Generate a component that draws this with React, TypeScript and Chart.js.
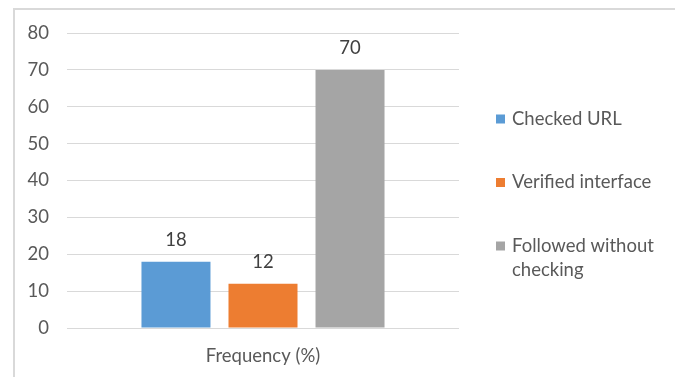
import React, { useEffect, useRef } from "react";
import { Chart, registerables } from "chart.js";
Chart.register(...registerables);

const categories = ["Frequency (%)"];
const seriesNames = ["Checked URL", "Verified interface", "Followed without checking"];
const checkedUrl = [18];
const verifiedInterface = [12];
const followedWithoutChecking = [70];
const seriesColors = ["#5B9BD5", "#ED7D31", "#A5A5A5"];
const yMin = 0;
const yMax = 80;
const yStep = 10;

const FONT = "Lato, Carlito, 'Open Sans', sans-serif";
const TICK_SIZE = 18.5;

const dataLabels = {
  id: "dataLabels",
  afterDatasetsDraw(chart: any) {
    const ctx = chart.ctx;
    ctx.save();
    ctx.font = `${TICK_SIZE}px ${FONT}`;
    ctx.fillStyle = "#404040";
    ctx.textAlign = "center";
    ctx.textBaseline = "middle";
    chart.data.datasets.forEach((ds: any, i: number) => {
      const meta = chart.getDatasetMeta(i);
      meta.data.forEach((el: any, j: number) => {
        ctx.fillText(String(ds.data[j]), el.x, el.y - 22);
      });
    });
    ctx.restore();
  },
};

const sideLegend = {
  id: "sideLegend",
  afterDraw(chart: any) {
    const ctx = chart.ctx;
    ctx.save();
    ctx.font = `${TICK_SIZE}px ${FONT}`;
    ctx.textBaseline = "middle";
    ctx.textAlign = "left";
    const sqX = chart.chartArea.right + 37;
    const textX = sqX + 16;
    const maxW = chart.width - textX - 8;
    let y = 109;
    chart.data.datasets.forEach((ds: any) => {
      ctx.fillStyle = ds.backgroundColor;
      ctx.fillRect(sqX, y - 4.5, 9, 9);
      const words = String(ds.label).split(" ");
      const lines: string[] = [];
      let cur = "";
      words.forEach((w) => {
        const t = cur ? cur + " " + w : w;
        if (ctx.measureText(t).width > maxW && cur) {
          lines.push(cur);
          cur = w;
        } else cur = t;
      });
      if (cur) lines.push(cur);
      ctx.fillStyle = "#595959";
      lines.forEach((ln, k) => ctx.fillText(ln, textX, y + k * 24));
      y += 63.5;
    });
    ctx.restore();
  },
};

export default function App() {
  const ref = useRef<HTMLCanvasElement>(null);
  useEffect(() => {
    const seriesValues = [checkedUrl, verifiedInterface, followedWithoutChecking];
    const chart = new Chart(ref.current!, {
      type: "bar",
      data: {
        labels: categories,
        datasets: seriesNames.map((name, i) => ({
          label: name,
          data: seriesValues[i],
          backgroundColor: seriesColors[i],
          categoryPercentage: 0.666,
          barPercentage: 0.793,
        })),
      },
      options: {
        animation: false,
        responsive: false,
        layout: { padding: { left: 0, top: 23, right: 218, bottom: 0 } },
        plugins: { legend: { display: false }, tooltip: { enabled: false } },
        scales: {
          x: {
            grid: { display: false },
            border: { display: false },
            ticks: { color: "#595959", font: { family: FONT, size: TICK_SIZE }, padding: 9 },
            afterFit: (s: any) => { s.height = 49; },
          },
          y: {
            min: yMin,
            max: yMax,
            grid: { color: "#d9d9d9", drawTicks: true, tickLength: 18, tickColor: "rgba(0,0,0,0)" },
            border: { display: false },
            ticks: { stepSize: yStep, color: "#595959", font: { family: FONT, size: TICK_SIZE }, padding: 0 },
            afterFit: (s: any) => { s.width = 52; },
          },
        },
      },
      plugins: [dataLabels, sideLegend],
    });
    return () => chart.destroy();
  }, []);
  return (
    <div
      style={{
        marginLeft: 5,
        width: 666,
        height: 369,
        boxSizing: "border-box",
        borderTop: "2px solid #d9d9d9",
        borderLeft: "2px solid #d9d9d9",
        borderRight: "2px solid #d9d9d9",
        background: "#fff",
      }}
    >
      <canvas ref={ref} width={662} height={367} style={{ display: "block" }} />
    </div>
  );
}
